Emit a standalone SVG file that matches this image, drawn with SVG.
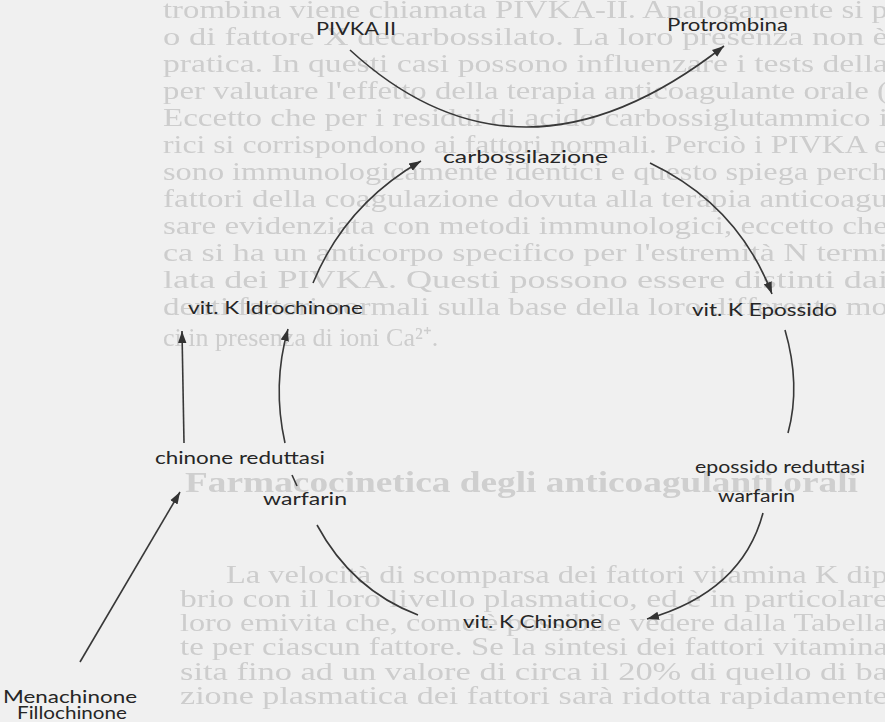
<svg xmlns="http://www.w3.org/2000/svg" width="885" height="722" viewBox="0 0 885 722">
<defs>
<style>
.bg{font-family:"Liberation Serif",serif;font-size:26px;fill:#cdcdcd}
.hd{font-family:"Liberation Serif",serif;font-size:29px;font-weight:bold;fill:#cfcfcf}
.lbl{font-family:Lato,"Liberation Sans",sans-serif;font-size:16.5px;fill:#262626}
.ln{fill:none;stroke:#383838;stroke-width:1.6}
</style>
<filter id="soft" x="-2%" y="-2%" width="104%" height="104%"><feGaussianBlur stdDeviation="0.7"/></filter>
<marker id="ah" markerUnits="userSpaceOnUse" markerWidth="14" markerHeight="10" refX="12" refY="5" orient="auto"><path d="M0,0.8 L12,5 L0,9.2 z" fill="#333"/></marker>
</defs>
<rect width="885" height="722" fill="#f0f0f0"/>
<g id="page-text" filter="url(#soft)">
<text class="bg" x="163" y="18" textLength="725" lengthAdjust="spacingAndGlyphs">trombina viene chiamata PIVKA-II. Analogamente si p</text>
<text class="bg" x="163" y="45" textLength="725" lengthAdjust="spacingAndGlyphs">o di fattore X decarbossilato. La loro presenza non è</text>
<text class="bg" x="163" y="72" textLength="725" lengthAdjust="spacingAndGlyphs">pratica. In questi casi possono influenzare i tests della</text>
<text class="bg" x="163" y="99" textLength="725" lengthAdjust="spacingAndGlyphs">per valutare l'effetto della terapia anticoagulante orale (</text>
<text class="bg" x="163" y="126" textLength="725" lengthAdjust="spacingAndGlyphs">Eccetto che per i residui di acido carbossiglutammico i</text>
<text class="bg" x="163" y="153" textLength="725" lengthAdjust="spacingAndGlyphs">rici si corrispondono ai fattori normali. Perciò i PIVKA e</text>
<text class="bg" x="163" y="180" textLength="725" lengthAdjust="spacingAndGlyphs">sono immunologicamente identici e questo spiega perch</text>
<text class="bg" x="163" y="207" textLength="725" lengthAdjust="spacingAndGlyphs">fattori della coagulazione dovuta alla terapia anticoagu</text>
<text class="bg" x="163" y="234" textLength="725" lengthAdjust="spacingAndGlyphs">sare evidenziata con metodi immunologici, eccetto che</text>
<text class="bg" x="163" y="261" textLength="725" lengthAdjust="spacingAndGlyphs">ca si ha un anticorpo specifico per l'estremità N termi</text>
<text class="bg" x="163" y="288" textLength="725" lengthAdjust="spacingAndGlyphs">lata dei PIVKA. Questi possono essere distinti dai</text>
<text class="bg" x="163" y="315" textLength="725" lengthAdjust="spacingAndGlyphs">denti fattori normali sulla base della loro differente mo</text>
<text class="bg" x="163" y="346">ci in presenza di ioni Ca²⁺.</text>
<text class="hd" x="185" y="492" textLength="673" lengthAdjust="spacingAndGlyphs">Farmacocinetica degli anticoagulanti orali</text>
<text class="bg" x="226" y="583" textLength="662" lengthAdjust="spacingAndGlyphs">La velocità di scomparsa dei fattori vitamina K dip</text>
<text class="bg" x="180" y="607" textLength="708" lengthAdjust="spacingAndGlyphs">brio con il loro livello plasmatico, ed è in particolare</text>
<text class="bg" x="180" y="631" textLength="708" lengthAdjust="spacingAndGlyphs">loro emivita che, come è possibile vedere dalla Tabella</text>
<text class="bg" x="180" y="655" textLength="708" lengthAdjust="spacingAndGlyphs">te per ciascun fattore. Se la sintesi dei fattori vitamina</text>
<text class="bg" x="180" y="680" textLength="708" lengthAdjust="spacingAndGlyphs">sita fino ad un valore di circa il 20% di quello di ba</text>
<text class="bg" x="180" y="704" textLength="708" lengthAdjust="spacingAndGlyphs">zione plasmatica dei fattori sarà ridotta rapidamente</text>
</g>
<g id="connectors">
<path class="ln" d="M350,50 Q520,206 724,46" marker-end="url(#ah)"/>
<path class="ln" d="M313,283 Q345,205 421,161" marker-end="url(#ah)"/>
<path class="ln" d="M650,163 Q738,205 772,294" marker-end="url(#ah)"/>
<path class="ln" d="M785,330 Q801,385 788,433"/>
<path class="ln" d="M763,513 Q742,592 647,619" marker-end="url(#ah)"/>
<path class="ln" d="M418,615 Q352,590 317,525"/>
<path class="ln" d="M292,475 L297,486"/>
<path class="ln" d="M285,443 Q272,385 288,329" marker-end="url(#ah)"/>
<path class="ln" d="M184,443 L182,331" marker-end="url(#ah)"/>
<path class="ln" d="M80,662 L180,492" marker-end="url(#ah)"/>
</g>
<g id="pivka-ii"><text class="lbl" x="316" y="35" textLength="80" lengthAdjust="spacingAndGlyphs">PIVKA II</text></g>
<g id="protrombina"><text class="lbl" x="667" y="31" textLength="121" lengthAdjust="spacingAndGlyphs">Protrombina</text></g>
<g id="carbossilazione"><text class="lbl" x="443" y="163" textLength="165" lengthAdjust="spacingAndGlyphs">carbossilazione</text></g>
<g id="vitk-idrochinone"><text class="lbl" x="188" y="314" textLength="175" lengthAdjust="spacingAndGlyphs">vit. K Idrochinone</text></g>
<g id="vitk-epossido"><text class="lbl" x="692" y="316" textLength="145" lengthAdjust="spacingAndGlyphs">vit. K Epossido</text></g>
<g id="chinone-reduttasi"><text class="lbl" x="155" y="464" textLength="170" lengthAdjust="spacingAndGlyphs">chinone reduttasi</text></g>
<g id="warfarin-left"><text class="lbl" x="263" y="505" textLength="84" lengthAdjust="spacingAndGlyphs">warfarin</text></g>
<g id="epossido-reduttasi"><text class="lbl" x="695" y="473" textLength="170" lengthAdjust="spacingAndGlyphs">epossido reduttasi</text></g>
<g id="warfarin-right"><text class="lbl" x="718" y="502" textLength="77" lengthAdjust="spacingAndGlyphs">warfarin</text></g>
<g id="vitk-chinone"><text class="lbl" x="463" y="628" textLength="139" lengthAdjust="spacingAndGlyphs">vit. K Chinone</text></g>
<g id="menachinone-fillochinone">
<text class="lbl" x="3" y="703" textLength="134" lengthAdjust="spacingAndGlyphs">Menachinone</text>
<text class="lbl" x="17" y="719" textLength="110" lengthAdjust="spacingAndGlyphs">Fillochinone</text>
</g>
</svg>
